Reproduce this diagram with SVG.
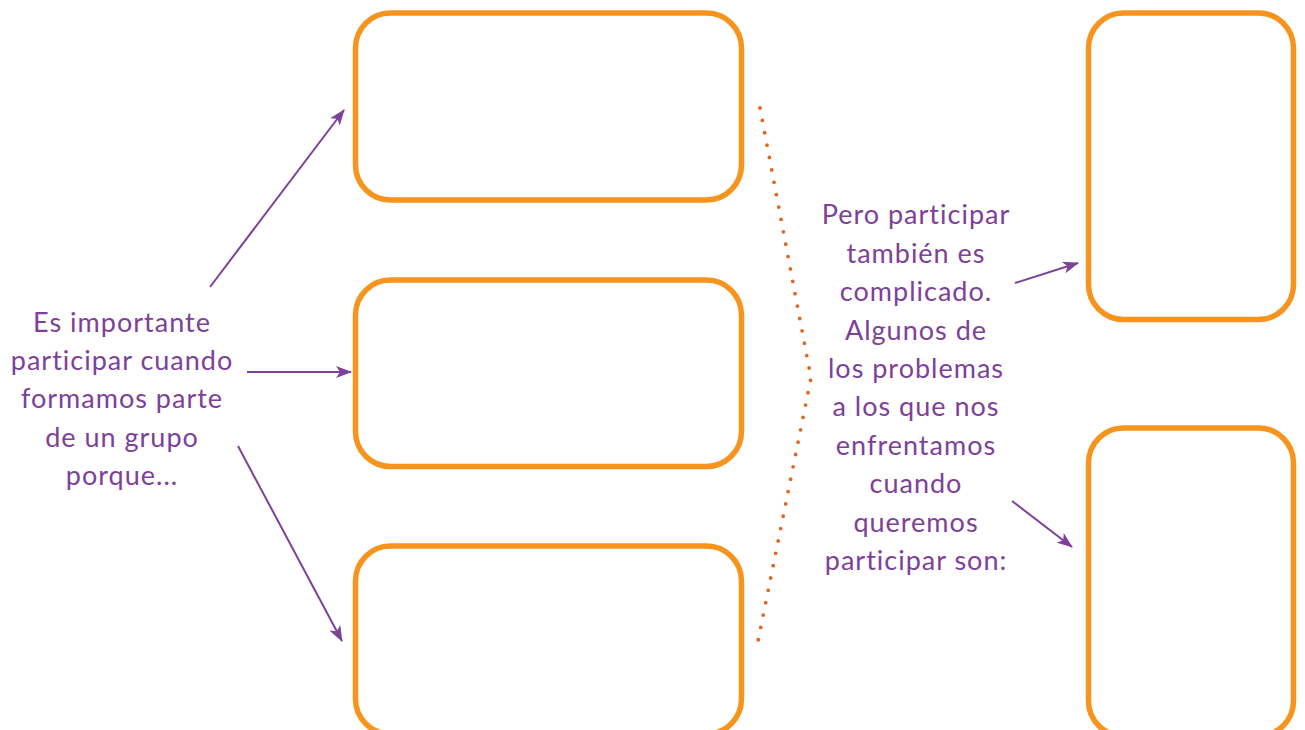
<svg xmlns="http://www.w3.org/2000/svg" width="1305" height="730" viewBox="0 0 1305 730">
<style>
.box{fill:none;stroke:#F7941D;stroke-width:5.5}
.lbl{font-family:Lato,"Open Sans",sans-serif;font-size:27px;letter-spacing:1px;fill:#7D4199;text-anchor:middle}
.arr{stroke:#7D4199;stroke-width:2;fill:none;marker-end:url(#ah)}
.dots{fill:none;stroke:#E3651F;stroke-width:3.8;stroke-linecap:round;stroke-dasharray:0 12.6}
</style>
<defs>
<marker id="ah" viewBox="0 0 16 12" refX="15" refY="6" markerWidth="16" markerHeight="12" markerUnits="userSpaceOnUse" orient="auto">
<path d="M0,0 L16,6 L0,12 L4,6 Z" fill="#7D4199"/>
</marker>
</defs>
<rect width="1305" height="730" fill="#fff"/>
<g id="box-left-1"><rect class="box" x="355.5" y="13" width="386" height="187" rx="35"/></g>
<g id="box-left-2"><rect class="box" x="355.5" y="280" width="386" height="186.5" rx="35"/></g>
<g id="box-left-3"><rect class="box" x="355.5" y="546" width="386" height="188" rx="35"/></g>
<g id="box-right-1"><rect class="box" x="1088.5" y="13" width="205" height="306.5" rx="35"/></g>
<g id="box-right-2"><rect class="box" x="1088.5" y="428" width="205" height="308" rx="35"/></g>
<g id="text-left">
<text class="lbl"><tspan x="122" y="331.7">Es importante</tspan><tspan x="122" y="370">participar cuando</tspan><tspan x="122" y="408.4">formamos parte</tspan><tspan x="122" y="446.8">de un grupo</tspan><tspan x="122" y="485.2">porque...</tspan></text>
</g>
<g id="text-right">
<text class="lbl"><tspan x="916" y="224.3">Pero participar</tspan><tspan x="916" y="262.7">también es</tspan><tspan x="916" y="301.1">complicado.</tspan><tspan x="916" y="339.5">Algunos de</tspan><tspan x="916" y="377.9">los problemas</tspan><tspan x="916" y="416.3">a los que nos</tspan><tspan x="916" y="454.7">enfrentamos</tspan><tspan x="916" y="493.1">cuando</tspan><tspan x="916" y="531.5">queremos</tspan><tspan x="916" y="569.9">participar son:</tspan></text>
</g>
<g id="connectors">
<path class="arr" d="M210,287 L344,110"/>
<path class="arr" d="M247,372 L351,372"/>
<path class="arr" d="M238,446 L342,641"/>
<path class="arr" d="M1015,283 L1078,263"/>
<path class="arr" d="M1012,501 L1072,547"/>
<path class="dots" d="M760,108 L811,378 L758,641"/>
</g>
</svg>
